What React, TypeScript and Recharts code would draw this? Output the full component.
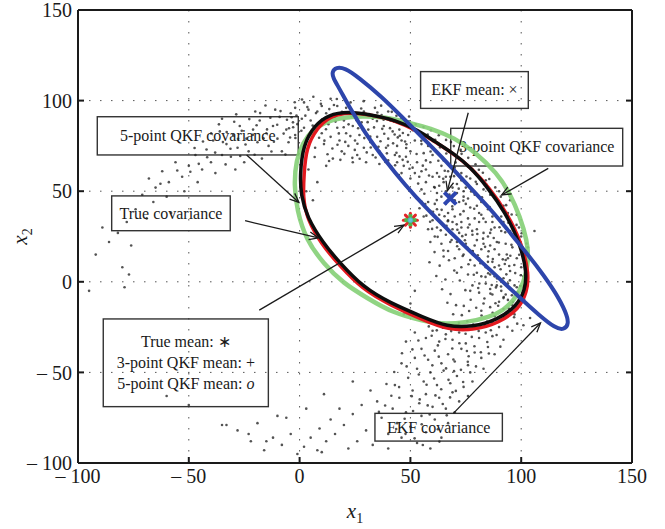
import React from 'react';
import {
  ComposedChart,
  XAxis,
  YAxis,
  CartesianGrid,
  Scatter,
  Line,
  ReferenceArea,
  ReferenceLine,
} from 'recharts';

type Pt = [number, number];

const SERIF = "'Liberation Serif', 'Times New Roman', Times, serif";

// Axis ticks shared by x1 and x2
const axisTicks = [-100, -50, 0, 50, 100, 150];

// Monte Carlo samples of the transformed state, grouped by region of the banana
const cloudDenseBand: Pt[] = [
  [63, 58], [71, 49], [77, 41], [84, 33], [89, 22], [93, 12], [67, 61], [74, 47], [81, 38], [86, 27],
  [59, 66], [65, 55], [72, 44], [79, 35], [88, 18], [95, 6], [61, 52], [69, 40], [76, 30], [83, 21],
  [90, 9], [97, -2], [57, 62], [64, 47], [70, 36], [78, 26], [85, 14], [92, 2], [99, -9], [66, 43],
  [73, 33], [80, 23], [87, 11], [94, -1], [62, 49], [68, 58], [75, 52], [82, 44], [87, 36], [91, 28],
  [96, 19], [100, 8], [60, 58], [66, 50], [73, 56], [79, 48], [85, 40], [92, 33], [97, 24], [102, 12],
  [58, 44], [63, 37], [69, 29], [75, 21], [81, 13], [86, 4], [91, -5], [96, -13], [70, 63], [77, 57],
  [83, 51], [89, 45], [94, 38], [99, 30], [103, 19], [55, 51], [61, 43], [67, 34], [72, 27], [78, 17],
  [84, 8], [89, -2], [94, -10], [64, 64], [71, 54], [76, 46], [82, 37], [88, 30], [93, 21], [98, 13],
  [59, 39], [65, 31], [71, 22], [77, 12], [82, 3], [87, -7], [92, -15], [68, 47], [74, 39], [80, 29],
  [86, 20], [90, 15], [95, 28], [101, 3], [57, 55], [62, 60], [69, 52], [75, 43], [81, 33], [85, 25],
  [91, 36], [96, 31], [60, 34], [66, 26], [72, 18], [79, 9], [84, -1], [90, -11], [97, -18], [63, 53],
  [70, 45], [76, 35], [83, 27], [88, 8], [93, -7], [58, 29], [64, 21], [70, 13], [76, 4], [81, -6],
  [86, -14], [73, 60], [80, 54], [86, 48], [92, 42], [98, 37], [67, 38], [73, 30], [79, 20], [85, 11],
  [91, 0], [95, -4], [61, 25], [67, 17], [73, 8], [78, -2], [83, -12], [88, -19], [56, 36], [62, 30],
  [68, 22], [74, 15], [80, 5], [86, -4], [92, -9], [98, -3], [65, 67], [72, 68], [78, 62], [84, 56],
  [90, 50], [95, 45], [100, 25], [103, 5], [59, 22], [65, 14], [71, 5], [77, -5], [82, -16], [87, -22],
  [62, 40], [69, 33], [75, 26], [82, 18], [88, 3], [94, 13], [66, 58], [74, 50], [80, 42], [87, 33],
];

const cloudDenseBandOuter: Pt[] = [
  [41.3, 63.8], [43.7, 71.2], [45.2, 80.6], [47.9, 86.1], [42.6, 88.4], [44.8, 58.9], [46.5, 67.3], [48.2, 75.9], [49.6, 62.4], [51.1, 83.7],
  [52.8, 70.5], [53.5, 54.2], [54.9, 77.8], [55.6, 64.1], [56.3, 48.6], [57.8, 81.2], [58.4, 58.7], [59.1, 71.9], [60.7, 52.3], [61.2, 78.4],
  [61.9, 45.1], [62.6, 66.8], [63.4, 74.2], [64.1, 39.7], [64.8, 56.9], [65.5, 61.3], [66.2, 70.8], [66.9, 33.4], [67.6, 48.2], [68.3, 77.1],
  [68.9, 41.6], [69.7, 58.3], [70.4, 65.9], [71.2, 28.7], [71.8, 51.4], [72.5, 37.2], [73.1, 70.6], [73.9, 44.8], [74.6, 22.9], [75.3, 58.1],
  [75.9, 63.7], [76.7, 31.6], [77.4, 49.9], [78.1, 16.8], [78.8, 40.3], [79.5, 55.2], [80.2, 26.4], [80.9, 61.8], [81.6, 10.2], [82.3, 46.7],
  [82.9, 34.9], [83.7, 19.3], [84.4, 53.6], [85.1, 4.7], [85.8, 41.2], [86.4, 28.8], [87.2, 12.6], [87.9, 47.3], [88.6, -3.1], [89.3, 35.4],
  [89.9, 21.7], [90.7, 6.9], [91.4, 40.8], [92.1, -8.4], [92.8, 27.3], [93.5, 15.1], [94.2, 32.6], [94.9, 0.8], [95.6, 20.4], [96.3, -11.2],
  [96.9, 9.3], [97.7, 25.8], [98.4, -5.7], [99.1, 14.9], [99.8, 3.6], [100.6, 18.2], [101.3, -9.8], [102.1, 8.4], [102.8, -1.9], [103.6, 13.3],
  [57.2, 36.5], [59.8, 29.2], [62.3, 24.8], [64.9, 17.3], [67.4, 11.9], [69.8, 6.2], [72.3, 0.7], [74.8, -4.6], [77.2, -9.9], [79.7, -14.3],
  [82.1, -18.6], [84.6, -21.9], [87.1, -17.1], [89.6, -13.2], [91.9, -18.7], [94.4, -14.8], [96.8, -19.6], [60.9, 16.4], [63.2, 8.9], [65.8, 1.3],
  [68.1, -6.8], [70.6, -12.9], [73.2, -18.4], [75.7, -21.8], [78.3, -23.6], [58.6, 10.8], [61.7, 3.2], [64.3, -4.1], [66.7, -11.6], [69.3, -17.9],
  [71.9, -22.6], [74.1, -13.3], [76.5, -16.1], [80.6, -3.4], [83.4, -9.2], [86.1, -6.5], [88.4, -11.8], [90.9, -2.6], [93.3, 4.1], [95.8, -7.4],
  [54.1, 40.6], [56.7, 42.9], [58.9, 33.1], [61.4, 35.8], [63.7, 28.4], [66.3, 30.9], [68.6, 23.1], [71.1, 19.6], [73.6, 14.2], [76.2, 9.7],
  [78.6, 3.9], [81.1, -0.9], [83.9, 2.7], [86.7, -1.8], [89.1, 1.9], [91.7, 12.4], [94.6, 8.7], [97.3, 4.8], [99.5, -2.3], [101.8, 1.6],
  [45.9, 90.3], [49.3, 88.6], [52.4, 86.9], [55.9, 85.4], [59.3, 83.6], [62.8, 80.9], [66.1, 78.3], [69.6, 74.9], [72.7, 72.8], [76.1, 68.4],
  [79.4, 64.9], [82.7, 60.2], [85.6, 56.7], [88.3, 52.1], [90.8, 46.9], [93.2, 42.3], [95.7, 37.1], [97.9, 31.4], [100.2, 26.8], [102.4, 21.1],
  [47.1, 54.6], [50.3, 50.2], [52.6, 46.3], [55.1, 44.2], [57.9, 40.1], [60.2, 38.7], [62.9, 33.6], [65.4, 36.2], [67.9, 27.4], [70.9, 31.7],
  [73.4, 25.2], [75.8, 18.7], [77.9, 28.1], [80.4, 14.6], [82.8, 23.8], [85.3, 16.9], [87.6, 24.2], [90.2, 30.1], [92.6, 9.8], [95.1, 14.4],
];

const cloudUpperArc: Pt[] = [
  [50, 72], [46, 78], [42, 83], [38, 86], [53, 66], [48, 69], [44, 75], [40, 79], [55, 61], [51, 63],
  [47, 64], [43, 70], [39, 74], [35, 80], [31, 84], [28, 88], [36, 72], [32, 77], [27, 81], [24, 86],
  [20, 89], [16, 91], [12, 93], [8, 94], [4, 95], [33, 70], [29, 74], [25, 78], [21, 82], [17, 85],
  [13, 87], [9, 88], [5, 89], [1, 90], [26, 70], [22, 75], [18, 78], [14, 80], [10, 82], [6, 84],
  [2, 85], [45, 84], [41, 89], [37, 92], [33, 90], [29, 94], [25, 93], [21, 96], [17, 97], [52, 78],
  [56, 71], [49, 81], [54, 58], [57, 67], [52, 60], [44, 66], [40, 67], [30, 66], [19, 72], [11, 76],
  [3, 79], [15, 68], [7, 74], [24, 66], [34, 96], [40, 94], [10, 97], [2, 99], [46, 60], [50, 57],
  [42, 62], [36, 65], [48, 87], [55, 76], [58, 75], [60, 70], [23, 99], [14, 101], [-2, 96], [-1, 87],
];

const cloudUpperArcOuter: Pt[] = [
  [0.8, 83.4], [2.6, 91.7], [4.3, 76.8], [5.9, 86.2], [7.4, 93.1], [8.8, 79.5], [10.3, 89.7], [11.9, 84.2], [13.4, 95.3], [14.8, 73.6],
  [16.2, 88.4], [17.7, 81.9], [19.1, 93.8], [20.6, 77.2], [22.1, 86.9], [23.5, 91.4], [24.9, 72.8], [26.4, 84.7], [27.8, 95.6], [29.2, 79.3],
  [30.7, 88.1], [32.1, 74.1], [33.6, 85.2], [35.1, 93.4], [36.5, 77.6], [37.9, 89.5], [39.4, 70.9], [40.8, 84.8], [42.2, 76.4], [43.7, 91.6],
  [45.1, 69.2], [46.6, 82.1], [48.1, 73.8], [49.4, 91.2], [1.7, 72.3], [3.5, 96.4], [6.8, 68.9], [9.6, 98.2], [12.6, 70.4], [15.5, 97.6],
  [18.4, 67.3], [21.3, 99.1], [23.8, 68.4], [27.1, 67.9], [31.4, 92.6], [34.3, 68.6], [38.2, 81.7], [41.6, 93.8], [44.3, 79.7], [47.6, 77.4],
  [4.9, 81.6], [8.1, 87.1], [11.2, 77.9], [14.1, 91.2], [17.1, 75.6], [19.9, 85.3], [22.9, 80.4], [25.7, 89.1], [28.6, 83.8], [31.9, 80.1],
  [34.9, 88.7], [37.3, 84.4], [39.9, 75.2], [42.9, 81.3], [-3.6, 90.8], [-1.9, 79.4], [-4.8, 84.7], [1.1, 100.6], [6.2, 102.1], [16.8, 100.9],
  [28.9, 99.7], [36.8, 97.2], [26.1, 76.2], [30.3, 71.4], [20.2, 70.6], [13.3, 66.7], [35.6, 74.5], [38.7, 66.1], [43.1, 64.3], [48.8, 66.2],
];

const cloudInnerSparse: Pt[] = [
  [4, 62], [8, 55], [3, 50], [12, 64], [6, 45], [50, -12], [47, -18], [52, -5], [104, -20], [106, 28],
];

const cloudLowerTail: Pt[] = [
  [60, -27], [66, -29], [72, -28], [78, -26], [84, -28], [90, -25], [57, -31], [63, -33], [69, -32], [75, -34],
  [81, -31], [87, -30], [55, -37], [61, -38], [67, -40], [73, -37], [79, -39], [85, -36], [58, -43], [64, -45],
  [70, -44], [76, -46], [82, -42], [53, -48], [59, -50], [65, -49], [71, -52], [77, -50], [56, -55], [62, -57],
  [68, -56], [74, -58], [51, -60], [57, -62], [63, -64], [69, -61], [54, -67], [60, -69], [66, -70], [48, -72],
  [55, -74], [61, -76], [67, -78], [50, -80], [57, -83], [44, -78], [46, -86], [53, -89], [40, -84], [72, -66],
  [78, -55], [83, -48], [88, -40], [92, -32], [52, -42], [49, -53], [45, -64], [42, -70], [64, -86], [59, -92],
  [70, -72], [76, -63], [96, -27], [101, -24], [48, -33], [52, -28], [46, -45], [43, -57], [37, -75], [40, -92],
];

const cloudLowerTailOuter: Pt[] = [
  [58.3, -24.6], [61.9, -26.8], [64.7, -25.3], [68.4, -27.2], [71.6, -25.9], [74.9, -28.7], [77.7, -30.4], [80.8, -27.1], [83.6, -24.4], [86.3, -26.7],
  [59.6, -29.8], [62.4, -35.1], [65.8, -31.6], [68.9, -36.8], [72.1, -33.9], [75.5, -38.2], [78.9, -35.6], [81.8, -38.9], [84.7, -33.2], [88.9, -29.4],
  [56.4, -40.7], [59.9, -46.1], [62.8, -41.3], [66.1, -47.8], [69.4, -42.9], [72.8, -48.6], [75.9, -44.1], [79.6, -46.7], [53.8, -51.2], [57.3, -56.8],
  [60.7, -53.4], [63.9, -59.3], [67.2, -54.1], [70.5, -60.2], [73.8, -55.3], [50.6, -63.1], [54.2, -64.9], [57.8, -68.2], [61.3, -62.7], [64.6, -67.4],
  [67.9, -63.8], [47.4, -75.6], [51.2, -71.3], [55.1, -78.6], [58.7, -73.2], [62.4, -81.4], [43.6, -81.2], [47.8, -83.9], [51.9, -86.4], [55.6, -90.1],
  [38.6, -68.3], [41.4, -62.9], [44.9, -58.1], [48.3, -46.7], [50.9, -37.3], [53.6, -32.4], [46.2, -39.4], [42.7, -49.8], [39.2, -56.4], [35.8, -71.8],
  [66.4, -73.7], [63.1, -88.2], [69.7, -49.3], [76.3, -41.1], [85.4, -39.6], [90.6, -35.8], [93.8, -24.9], [98.2, -23.1],
];

const cloudSouthTail: Pt[] = [
  [32, -60], [28, -68], [24, -73], [20, -79], [16, -84], [12, -88], [30, -82], [26, -88], [22, -92], [18, -70],
  [14, -76], [9, -81], [5, -86], [2, -91], [-1, -95], [8, -93], [35, -66], [33, -90], [-4, -84], [-8, -90],
  [-12, -86], [-16, -93], [-22, -88], [-28, -82], [-33, -79], [-19, -78], [-6, -75], [3, -70], [11, -62], [24, -55],
  [-35, -79], [-23, -84], [-15, -88], [-10, -74], [10, -94], [-60, -63], [-50, -68],
];

const cloudWestTail: Pt[] = [
  [-3, 88], [-6, 84], [-9, 91], [-12, 86], [-15, 82], [-18, 89], [-21, 84], [-24, 79], [-27, 86], [-30, 81],
  [-33, 76], [-36, 83], [-39, 78], [-42, 73], [-5, 77], [-10, 79], [-14, 75], [-19, 77], [-23, 72], [-28, 74],
  [-31, 69], [-35, 70], [-2, 81], [-8, 72], [-17, 68], [-25, 66], [-40, 66], [-44, 62], [-47, 70], [-50, 64],
  [-53, 58], [-56, 66], [-59, 55], [-62, 61], [-65, 52], [-68, 57], [-71, 48], [-46, 55], [-52, 50], [-38, 60],
  [-29, 62], [-11, 95], [-20, 94], [-35, 90], [-4, 93], [-60, 47], [-66, 44], [-74, 40], [-78, 33], [-82, 27],
  [-86, 22], [-80, 8], [-77, 4], [-89, 30], [-92, 15], [-76, 20], [-69, 35], [-95, -5], [-79, -3], [-58, 38],
];

const cloudWestTailInner: Pt[] = [
  [-1.4, 91.8], [-2.9, 85.3], [-4.3, 79.6], [-5.7, 89.4], [-7.2, 81.8], [-8.6, 94.2], [-10.1, 86.7], [-11.6, 77.3], [-13.2, 90.6], [-14.7, 84.1],
  [-16.3, 79.2], [-17.8, 93.1], [-19.4, 86.4], [-21.1, 81.1], [-22.7, 89.8], [-24.4, 75.8], [-26.1, 83.4], [-27.8, 78.9], [-29.5, 88.3], [-31.2, 73.4],
  [-32.9, 82.7], [-34.6, 77.1], [-36.4, 86.9], [-38.1, 71.3], [-39.9, 81.9], [-41.7, 68.7], [-43.6, 77.4], [-45.5, 65.1], [-47.4, 73.8], [-49.3, 60.7],
  [-6.4, 70.2], [-12.7, 71.9], [-20.3, 70.1], [-26.8, 69.4], [-33.4, 64.8], [-2.2, 99.1], [-15.4, 97.3], [-28.6, 92.4], [-55.2, 61.4], [-62.8, 54.1],
];

// Covariance ellipse outlines, traced point by point around each contour
const trueCovariance: Pt[] = [
  [2.0, 58.9], [2.9, 73.8], [7.9, 84.9], [13.7, 91.5], [22.3, 93.7], [32.7, 92.1], [43.1, 89.0],
  [53.4, 83.2], [61.6, 76.9], [69.6, 70.5], [77.3, 63.1], [85.5, 52.0], [93.6, 38.0], [100.4, 20.9],
  [103.5, 4.3], [102.6, -5.6], [99.0, -15.0], [90.0, -22.7], [79.2, -26.6], [67.0, -26.6], [55.7, -21.1],
  [40.8, -12.8], [28.2, -4.0], [17.8, 9.3], [10.1, 20.3], [3.3, 34.7], [1.5, 46.8],
];

const qkf5Covariance: Pt[] = [
  [0.2, 58.9], [1.5, 75.5], [6.9, 86.5], [12.8, 92.1], [21.8, 94.0], [32.7, 92.1], [43.1, 89.3],
  [53.4, 83.8], [61.1, 77.3], [69.2, 71.1], [76.9, 63.5], [84.6, 52.5], [92.7, 38.5], [99.5, 21.4],
  [102.6, 4.9], [101.7, -4.5], [98.1, -13.4], [89.1, -21.1], [78.2, -24.9], [66.5, -24.9], [55.7, -19.4],
  [40.8, -11.7], [28.6, -2.9], [18.2, 10.4], [10.6, 21.4], [3.3, 35.8], [0.6, 47.9],
];

const qkf3Covariance: Pt[] = [
  [-2.5, 53.4], [-1.6, 67.2], [1.5, 76.6], [5.6, 83.8], [11.5, 88.2], [19.1, 90.7], [28.2, 91.5],
  [38.5, 91.0], [49.8, 87.6], [58.8, 84.9], [70.1, 79.4], [79.2, 71.6], [89.1, 60.0], [94.9, 49.0],
  [99.5, 35.8], [102.6, 23.1], [103.5, 12.0], [101.3, -0.7], [96.8, -10.0], [92.2, -15.6], [85.9, -19.4],
  [74.6, -22.7], [63.4, -23.3], [55.7, -21.6], [42.1, -17.2], [30.4, -8.9], [19.6, -0.7], [11.0, 9.8],
  [2.9, 23.1], [-1.2, 39.6],
];

const ekfCovariance: Pt[] = [
  [14.6, 115.8], [16.4, 118.5], [20.5, 118.0], [26.4, 113.0], [37.2, 102.0], [46.2, 91.0], [55.2, 79.9],
  [65.6, 67.2], [73.7, 56.2], [85.9, 40.7], [99.5, 20.3], [108.5, 6.5], [115.7, -6.2], [120.2, -16.7],
  [121.6, -23.3], [119.3, -26.6], [115.3, -25.5], [108.5, -18.9], [99.5, -8.9], [90.4, 1.5], [79.2, 14.2],
  [67.9, 27.5], [56.6, 41.3], [47.6, 53.4], [38.5, 67.2], [29.5, 82.1], [22.7, 95.9], [17.8, 107.0],
  [15.1, 112.5],
];

// Estimated means
const trueMean: Pt[] = [[50, 34]];
const qkf3Mean: Pt[] = [[50, 34]];
const qkf5Mean: Pt[] = [[50, 34]];
const ekfMean: Pt[] = [[68, 46]];

const rows = (pts: Pt[]) => pts.map(([x, y]) => ({ x, y }));
const cloud = rows([
  ...cloudDenseBand,
  ...cloudDenseBandOuter,
  ...cloudUpperArc,
  ...cloudUpperArcOuter,
  ...cloudInnerSparse,
  ...cloudLowerTail,
  ...cloudLowerTailOuter,
  ...cloudSouthTail,
  ...cloudWestTail,
  ...cloudWestTailInner,
]);

type Seg = { t: string; italic?: boolean };
type Note = {
  box: [number, number, number, number]; // x1, x2, y1, y2 in axis units
  lines: Seg[][];
  arrow: [Pt, Pt];
};

const notes: Note[] = [
  {
    box: [-91.3, -0.6, 70.0, 91.1],
    lines: [[{ t: '5-point QKF covariance' }]],
    arrow: [[-23.9, 70.0], [-0.3, 43.8]],
  },
  {
    box: [-84.8, -31.3, 28.2, 47.4],
    lines: [[{ t: 'True covariance' }]],
    arrow: [[-24.6, 33.7], [8.5, 24.2]],
  },
  {
    box: [-88.6, -14.1, -68.9, -20.5],
    lines: [
      [{ t: 'True mean: \u2217' }],
      [{ t: '3-point QKF mean: +' }],
      [{ t: '5-point QKF mean: ' }, { t: 'o', italic: true }],
    ],
    arrow: [[-18.2, -15.6], [47.1, 31.3]],
  },
  {
    box: [54.6, 103.2, 95.7, 116.0],
    lines: [[{ t: 'EKF mean: \u00d7' }]],
    arrow: [[76.1, 93.3], [66.7, 50.3]],
  },
  {
    box: [68.2, 145.8, 63.9, 84.7],
    lines: [[{ t: '3-point QKF covariance' }]],
    arrow: [[112.2, 62.6], [91.2, 47.9]],
  },
  {
    box: [34.0, 91.5, -87.9, -72.6],
    lines: [[{ t: 'EKF covariance' }]],
    arrow: [[69.4, -72.6], [108.7, -22.7]],
  },
];

const INK = '#1a1a1a';

const fmtTick = (v: number) => (v < 0 ? `\u2013 ${Math.abs(v)}` : `${v}`);

const CloudDot = (p: any) => (
  <circle cx={p.cx} cy={p.cy} r={1.3} fill="#222" fillOpacity={0.78} />
);

const AsteriskMark = (p: any) => {
  const { cx, cy } = p;
  const s = 7;
  const d = s * 0.72;
  return (
    <g stroke="#e3262b" strokeWidth={3} strokeLinecap="round">
      <line x1={cx - s} y1={cy} x2={cx + s} y2={cy} />
      <line x1={cx} y1={cy - s} x2={cx} y2={cy + s} />
      <line x1={cx - d} y1={cy - d} x2={cx + d} y2={cy + d} />
      <line x1={cx - d} y1={cy + d} x2={cx + d} y2={cy - d} />
    </g>
  );
};

const PlusMark = (p: any) => {
  const { cx, cy } = p;
  const s = 6;
  return (
    <g stroke="#4fb547" strokeWidth={4}>
      <line x1={cx - s} y1={cy} x2={cx + s} y2={cy} />
      <line x1={cx} y1={cy - s} x2={cx} y2={cy + s} />
    </g>
  );
};

const CircleMark = (p: any) => (
  <circle cx={p.cx} cy={p.cy} r={2.4} fill="#62c6d8" stroke="#4fb0c8" strokeWidth={1} />
);

const CrossMark = (p: any) => {
  const { cx, cy } = p;
  const s = 6;
  return (
    <g stroke="#2d45b0" strokeWidth={4}>
      <line x1={cx - s} y1={cy - s} x2={cx + s} y2={cy + s} />
      <line x1={cx - s} y1={cy + s} x2={cx + s} y2={cy - s} />
    </g>
  );
};

const makeBox = (lines: Seg[][]) => (p: any) => {
  const { x, y, width, height } = p;
  const cx = x + width / 2;
  const cy = y + height / 2;
  const gap = 21;
  return (
    <g>
      <rect x={x} y={y} width={width} height={height} fill="none" stroke="#333" strokeWidth={1.4} />
      {lines.map((segs, k) => (
        <text
          key={k}
          x={cx}
          y={cy + (k - (lines.length - 1) / 2) * gap + 5.3}
          textAnchor="middle"
          fontFamily={SERIF}
          fontSize={16}
          fill={INK}
        >
          {segs.map((s, j) => (
            <tspan key={j} fontStyle={s.italic ? 'italic' : 'normal'}>
              {s.t}
            </tspan>
          ))}
        </text>
      ))}
    </g>
  );
};

const ArrowShape = (p: any) => {
  const { x1, y1, x2, y2 } = p;
  const ang = Math.atan2(y2 - y1, x2 - x1);
  const len = 10;
  const spread = 0.4;
  const ax = x2 - len * Math.cos(ang - spread);
  const ay = y2 - len * Math.sin(ang - spread);
  const bx = x2 - len * Math.cos(ang + spread);
  const by = y2 - len * Math.sin(ang + spread);
  return (
    <g stroke={INK} strokeWidth={1.3} fill="none">
      <line x1={x1} y1={y1} x2={x2} y2={y2} />
      <polyline points={`${ax},${ay} ${x2},${y2} ${bx},${by}`} />
    </g>
  );
};

const XTitle = (props: any) => {
  const vb = props.viewBox || {};
  const cx = (vb.x ?? 0) + (vb.width ?? 0) / 2;
  const y = (vb.y ?? 0) + 55;
  return (
    <text x={cx} y={y} textAnchor="middle" fontFamily={SERIF} fontSize={21} fill={INK}>
      <tspan fontStyle="italic">x</tspan>
      <tspan fontSize={14} dy={5}>1</tspan>
    </text>
  );
};

const YTitle = (props: any) => {
  const vb = props.viewBox || {};
  const x = 27;
  const cy = (vb.y ?? 0) + (vb.height ?? 0) / 2;
  return (
    <text
      x={x}
      y={cy}
      transform={`rotate(-90 ${x} ${cy})`}
      textAnchor="middle"
      fontFamily={SERIF}
      fontSize={21}
      fill={INK}
    >
      <tspan fontStyle="italic">x</tspan>
      <tspan fontSize={14} dy={5}>2</tspan>
    </text>
  );
};

const tickStyle = { fill: INK, fontSize: 20, fontFamily: SERIF };
const axisStroke = { stroke: INK, strokeWidth: 2 };

export default function App() {
  return (
    <div style={{ position: 'absolute', left: 0, top: 0, width: 665, height: 529, background: '#fff' }}>
      <ComposedChart width={665} height={529} margin={{ top: 9, right: 32, bottom: 0, left: 0 }}>
        <CartesianGrid stroke="#555" strokeDasharray="1.5 9.5" strokeWidth={1} />
        <XAxis
          type="number"
          dataKey="x"
          domain={[-100, 150]}
          ticks={axisTicks}
          interval={0}
          allowDataOverflow
          height={66}
          tickSize={-6}
          tickMargin={12}
          tickFormatter={fmtTick}
          tick={tickStyle}
          axisLine={axisStroke}
          tickLine={axisStroke}
          label={XTitle}
        />
        <XAxis
          xAxisId="top"
          orientation="top"
          type="number"
          domain={[-100, 150]}
          ticks={axisTicks}
          interval={0}
          allowDataOverflow
          height={1}
          tickSize={-6}
          tickFormatter={() => ''}
          axisLine={axisStroke}
          tickLine={axisStroke}
        />
        <YAxis
          type="number"
          dataKey="y"
          domain={[-100, 150]}
          ticks={axisTicks}
          interval={0}
          allowDataOverflow
          width={78}
          tickSize={-6}
          tickMargin={12}
          tickFormatter={fmtTick}
          tick={tickStyle}
          axisLine={axisStroke}
          tickLine={axisStroke}
          label={YTitle}
        />
        <YAxis
          yAxisId="right"
          orientation="right"
          type="number"
          domain={[-100, 150]}
          ticks={axisTicks}
          interval={0}
          allowDataOverflow
          width={1}
          tickSize={-6}
          tickFormatter={() => ''}
          axisLine={axisStroke}
          tickLine={axisStroke}
        />

        {notes.map((n, i) => (
          <ReferenceArea
            key={`box-${i}`}
            x1={n.box[0]}
            x2={n.box[1]}
            y1={n.box[2]}
            y2={n.box[3]}
            shape={makeBox(n.lines)}
            zIndex={150}
          />
        ))}

        <Scatter data={cloud} shape={CloudDot} isAnimationActive={false} zIndex={300} />

        <Line
          data={rows(qkf3Covariance)}
          dataKey="y"
          type="basisClosed"
          stroke="#84cf76"
          strokeWidth={4.5}
          strokeOpacity={0.9}
          dot={false}
          activeDot={false}
          isAnimationActive={false}
          zIndex={400}
        />
        <Line
          data={rows(trueCovariance)}
          dataKey="y"
          type="basisClosed"
          stroke="#e3191f"
          strokeWidth={3.5}
          dot={false}
          activeDot={false}
          isAnimationActive={false}
          zIndex={410}
        />
        <Line
          data={rows(qkf5Covariance)}
          dataKey="y"
          type="basisClosed"
          stroke="#0d0d0d"
          strokeWidth={3.5}
          dot={false}
          activeDot={false}
          isAnimationActive={false}
          zIndex={420}
        />
        <Line
          data={rows(ekfCovariance)}
          dataKey="y"
          type="basisClosed"
          stroke="#2d45ab"
          strokeWidth={4}
          dot={false}
          activeDot={false}
          isAnimationActive={false}
          zIndex={430}
        />

        <Scatter data={rows(trueMean)} shape={AsteriskMark} isAnimationActive={false} zIndex={600} />
        <Scatter data={rows(qkf3Mean)} shape={PlusMark} isAnimationActive={false} zIndex={610} />
        <Scatter data={rows(qkf5Mean)} shape={CircleMark} isAnimationActive={false} zIndex={620} />
        <Scatter data={rows(ekfMean)} shape={CrossMark} isAnimationActive={false} zIndex={630} />

        {notes.map((n, i) => (
          <ReferenceLine
            key={`arrow-${i}`}
            segment={[
              { x: n.arrow[0][0], y: n.arrow[0][1] },
              { x: n.arrow[1][0], y: n.arrow[1][1] },
            ]}
            shape={ArrowShape}
            zIndex={700}
          />
        ))}
      </ComposedChart>
    </div>
  );
}
